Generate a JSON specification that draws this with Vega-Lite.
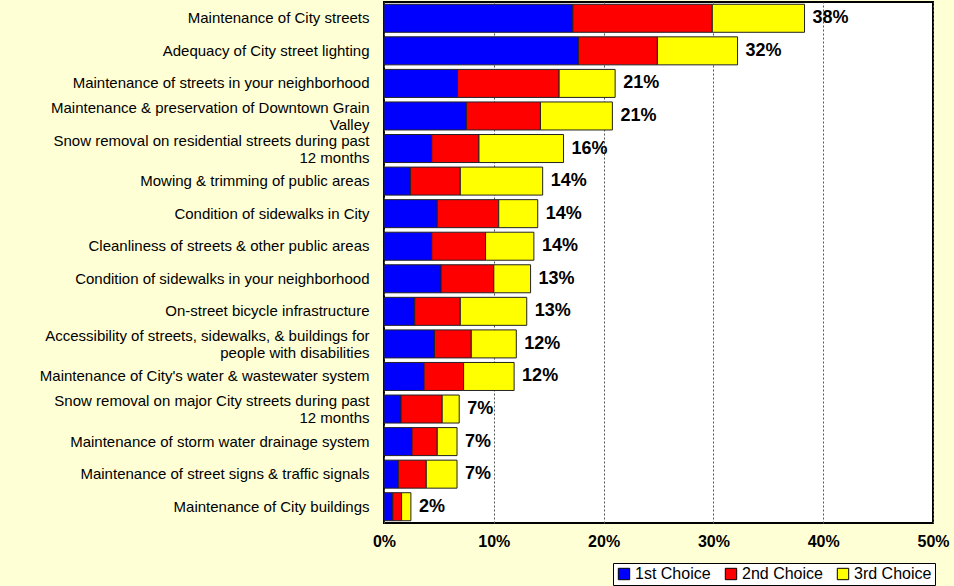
{
  "$schema": "https://vega.github.io/schema/vega-lite/v6.json",
  "width": 549,
  "height": 521,
  "autosize": {"type": "none"},
  "padding": {"left": 384, "right": 21, "top": 2, "bottom": 63},
  "background": "#FFFFD6",
  "config": {
    "font": "Liberation Sans",
    "view": {"stroke": "#000000", "strokeWidth": 2, "fill": "#FFFFFF"},
    "axis": {"labelColor": "#000000"}
  },
  "data": {
    "values": [
      {"item": "Maintenance of City streets", "choice": "1st Choice", "pct": 0.172},
      {"item": "Maintenance of City streets", "choice": "2nd Choice", "pct": 0.127},
      {"item": "Maintenance of City streets", "choice": "3rd Choice", "pct": 0.084},
      {"item": "Adequacy of City street lighting", "choice": "1st Choice", "pct": 0.177},
      {"item": "Adequacy of City street lighting", "choice": "2nd Choice", "pct": 0.072},
      {"item": "Adequacy of City street lighting", "choice": "3rd Choice", "pct": 0.073},
      {"item": "Maintenance of streets in your neighborhood", "choice": "1st Choice", "pct": 0.067},
      {"item": "Maintenance of streets in your neighborhood", "choice": "2nd Choice", "pct": 0.0925},
      {"item": "Maintenance of streets in your neighborhood", "choice": "3rd Choice", "pct": 0.051},
      {"item": "Maintenance & preservation of Downtown Grain\nValley", "choice": "1st Choice", "pct": 0.075},
      {"item": "Maintenance & preservation of Downtown Grain\nValley", "choice": "2nd Choice", "pct": 0.0675},
      {"item": "Maintenance & preservation of Downtown Grain\nValley", "choice": "3rd Choice", "pct": 0.0655},
      {"item": "Snow removal on residential streets during past\n12 months", "choice": "1st Choice", "pct": 0.0435},
      {"item": "Snow removal on residential streets during past\n12 months", "choice": "2nd Choice", "pct": 0.043},
      {"item": "Snow removal on residential streets during past\n12 months", "choice": "3rd Choice", "pct": 0.077},
      {"item": "Mowing & trimming of public areas", "choice": "1st Choice", "pct": 0.024},
      {"item": "Mowing & trimming of public areas", "choice": "2nd Choice", "pct": 0.0455},
      {"item": "Mowing & trimming of public areas", "choice": "3rd Choice", "pct": 0.075},
      {"item": "Condition of sidewalks in City", "choice": "1st Choice", "pct": 0.0485},
      {"item": "Condition of sidewalks in City", "choice": "2nd Choice", "pct": 0.056},
      {"item": "Condition of sidewalks in City", "choice": "3rd Choice", "pct": 0.0355},
      {"item": "Cleanliness of streets & other public areas", "choice": "1st Choice", "pct": 0.0435},
      {"item": "Cleanliness of streets & other public areas", "choice": "2nd Choice", "pct": 0.049},
      {"item": "Cleanliness of streets & other public areas", "choice": "3rd Choice", "pct": 0.044},
      {"item": "Condition of sidewalks in your neighborhood", "choice": "1st Choice", "pct": 0.052},
      {"item": "Condition of sidewalks in your neighborhood", "choice": "2nd Choice", "pct": 0.048},
      {"item": "Condition of sidewalks in your neighborhood", "choice": "3rd Choice", "pct": 0.0335},
      {"item": "On-street bicycle infrastructure", "choice": "1st Choice", "pct": 0.028},
      {"item": "On-street bicycle infrastructure", "choice": "2nd Choice", "pct": 0.0415},
      {"item": "On-street bicycle infrastructure", "choice": "3rd Choice", "pct": 0.0605},
      {"item": "Accessibility of streets, sidewalks, & buildings for\npeople with disabilities", "choice": "1st Choice", "pct": 0.046},
      {"item": "Accessibility of streets, sidewalks, & buildings for\npeople with disabilities", "choice": "2nd Choice", "pct": 0.0335},
      {"item": "Accessibility of streets, sidewalks, & buildings for\npeople with disabilities", "choice": "3rd Choice", "pct": 0.041},
      {"item": "Maintenance of City's water & wastewater system", "choice": "1st Choice", "pct": 0.0365},
      {"item": "Maintenance of City's water & wastewater system", "choice": "2nd Choice", "pct": 0.036},
      {"item": "Maintenance of City's water & wastewater system", "choice": "3rd Choice", "pct": 0.046},
      {"item": "Snow removal on major City streets during past\n12 months", "choice": "1st Choice", "pct": 0.0155},
      {"item": "Snow removal on major City streets during past\n12 months", "choice": "2nd Choice", "pct": 0.0375},
      {"item": "Snow removal on major City streets during past\n12 months", "choice": "3rd Choice", "pct": 0.0155},
      {"item": "Maintenance of storm water drainage system", "choice": "1st Choice", "pct": 0.0255},
      {"item": "Maintenance of storm water drainage system", "choice": "2nd Choice", "pct": 0.023},
      {"item": "Maintenance of storm water drainage system", "choice": "3rd Choice", "pct": 0.018},
      {"item": "Maintenance of street signs & traffic signals", "choice": "1st Choice", "pct": 0.013},
      {"item": "Maintenance of street signs & traffic signals", "choice": "2nd Choice", "pct": 0.0255},
      {"item": "Maintenance of street signs & traffic signals", "choice": "3rd Choice", "pct": 0.028},
      {"item": "Maintenance of City buildings", "choice": "1st Choice", "pct": 0.008},
      {"item": "Maintenance of City buildings", "choice": "2nd Choice", "pct": 0.008},
      {"item": "Maintenance of City buildings", "choice": "3rd Choice", "pct": 0.0085}
    ]
  },
  "encoding": {
    "y": {
      "field": "item",
      "type": "nominal",
      "sort": null,
      "scale": {"paddingInner": 0.14, "paddingOuter": 0.07},
      "axis": {
        "title": null,
        "domain": false,
        "ticks": false,
        "labelPadding": 15,
        "labelFontSize": 15,
        "labelLimit": 400,
        "labelLineHeight": 17,
        "labelExpr": "split(datum.label, '\\n')",
        "labelOffset": {"condition": {"test": "indexof(datum.value, '\\n') >= 0", "value": -8}, "value": 0}
      }
    }
  },
  "layer": [
    {
      "mark": {"type": "bar", "stroke": "#222222", "strokeWidth": 1},
      "encoding": {
        "x": {
          "field": "pct",
          "type": "quantitative",
          "stack": "zero",
          "scale": {"domain": [0, 0.5], "nice": false},
          "axis": {
            "title": null,
            "format": ".0%",
            "values": [0, 0.1, 0.2, 0.3, 0.4, 0.5],
            "domain": false,
            "ticks": false,
            "labelPadding": 10,
            "labelFontSize": 16,
            "labelFontWeight": "bold",
            "labelFlush": false,
            "labelOverlap": false,
            "grid": true,
            "gridColor": "#555555",
            "gridDash": [2, 2],
            "gridWidth": 1
          }
        },
        "color": {
          "field": "choice",
          "type": "nominal",
          "scale": {"domain": ["1st Choice", "2nd Choice", "3rd Choice"], "range": ["#0000FF", "#FF0000", "#FFFF00"]},
          "legend": {
            "title": null,
            "orient": "none",
            "legendX": 229,
            "legendY": 561,
            "direction": "horizontal",
            "symbolType": "square",
            "symbolSize": 130,
            "symbolStrokeColor": "#000000",
            "symbolStrokeWidth": 1,
            "labelFontSize": 16,
            "labelColor": "#000000",
            "labelOffset": 3,
            "columnPadding": 12,
            "padding": 3,
            "strokeColor": "#000000",
            "fillColor": "#FFFFFF"
          }
        }
      }
    },
    {
      "mark": {"type": "text", "align": "left", "baseline": "middle", "dx": 8, "fontSize": 18, "fontWeight": "bold", "color": "#000000"},
      "encoding": {
        "x": {"aggregate": "sum", "field": "pct", "type": "quantitative"},
        "text": {"aggregate": "sum", "field": "pct", "type": "quantitative", "format": ".0%"}
      }
    }
  ]
}
